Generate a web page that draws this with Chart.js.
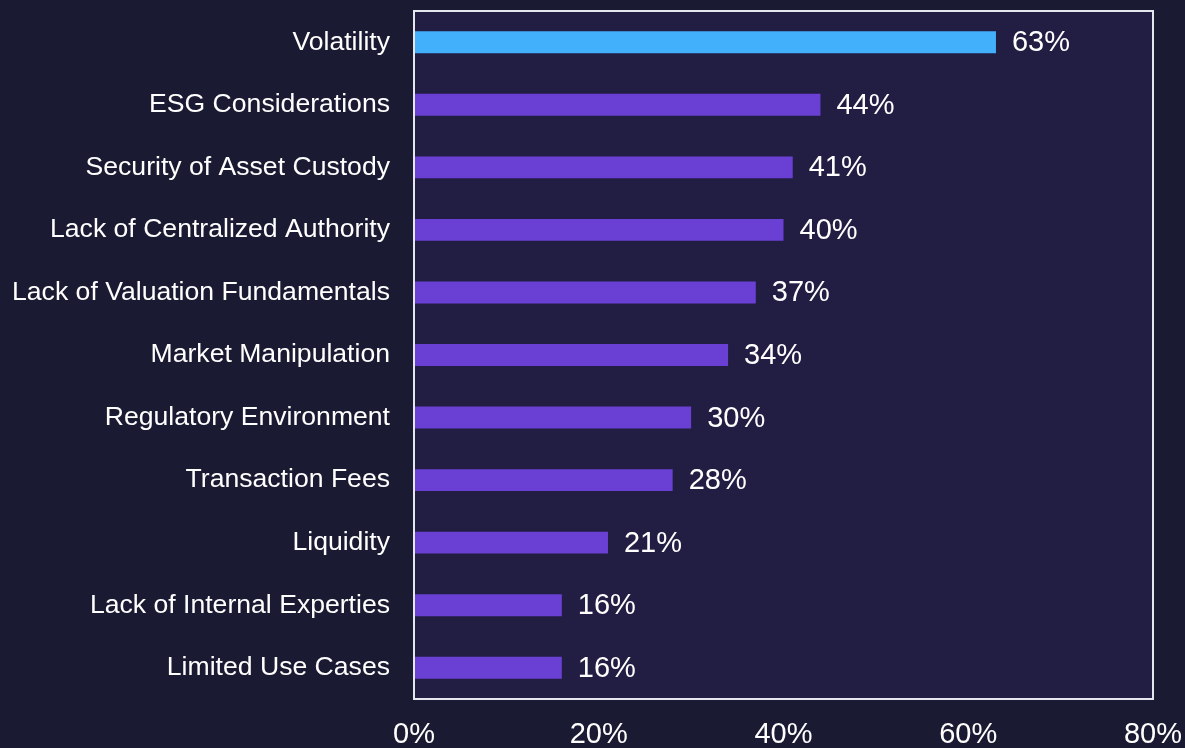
<!DOCTYPE html>
<html>
<head>
<meta charset="utf-8">
<script src="https://cdn.jsdelivr.net/npm/chart.js@4.4.0/dist/chart.umd.min.js"></script>
<style>
  html, body { margin: 0; padding: 0; background: #1b1a33; }
  #wrap { width: 1185px; height: 748px; }
</style>
</head>
<body>
<div id="wrap"><canvas id="chart"></canvas></div>
<script>
// concerns about digital assets, share of respondents
const categories = [
    'Volatility',
    'ESG Considerations',
    'Security of Asset Custody',
    'Lack of Centralized Authority',
    'Lack of Valuation Fundamentals',
    'Market Manipulation',
    'Regulatory Environment',
    'Transaction Fees',
    'Liquidity',
    'Lack of Internal Experties',
    'Limited Use Cases'
];
const values = [63, 44, 41, 40, 37, 34, 30, 28, 21, 16, 16];
const xTicks = [0, 20, 40, 60, 80];

const FONT = 'Arial, "Liberation Sans", Helvetica, sans-serif';
const barColors = values.map((v, i) => i === 0 ? '#42b0fa' : '#6a40d4');

// plot area fill + white frame
const frame = {
    id: 'frame',
    beforeDraw(chart) {
        const { ctx, chartArea: a } = chart;
        ctx.save();
        ctx.fillStyle = '#221d43';
        ctx.fillRect(a.left, a.top, a.right - a.left, a.bottom - a.top);
        ctx.restore();
    },
    afterDatasetsDraw(chart) {
        const { ctx, chartArea: a } = chart;
        ctx.save();
        ctx.strokeStyle = '#e6e6ee';
        ctx.lineWidth = 2;
        ctx.strokeRect(a.left, a.top, a.right - a.left, a.bottom - a.top);
        ctx.restore();
    }
};

// value labels right of each bar
const valueLabels = {
    id: 'valueLabels',
    afterDatasetsDraw(chart) {
        const { ctx } = chart;
        const meta = chart.getDatasetMeta(0);
        ctx.save();
        ctx.fillStyle = '#ffffff';
        ctx.font = '29px ' + FONT;
        ctx.textBaseline = 'middle';
        ctx.textAlign = 'left';
        meta.data.forEach((bar, i) => {
            ctx.fillText(values[i] + '%', bar.x + 16, bar.y + 1);
        });
        ctx.restore();
    }
};

new Chart(document.getElementById('chart'), {
    type: 'bar',
    data: {
        labels: categories,
        datasets: [{
            data: values,
            backgroundColor: barColors,
            borderWidth: 0,
            barPercentage: 0.35,
            categoryPercentage: 1
        }]
    },
    options: {
        indexAxis: 'y',
        responsive: true,
        maintainAspectRatio: false,
        animation: false,
        layout: {
            autoPadding: false,
            padding: { top: 11, right: 32, left: 0, bottom: 0 }
        },
        plugins: {
            legend: { display: false },
            tooltip: { enabled: false }
        },
        scales: {
            x: {
                min: 0,
                max: 80,
                afterBuildTicks(scale) {
                    scale.ticks = xTicks.map(v => ({ value: v }));
                },
                afterFit(scale) {
                    scale.height = 49;
                    scale.paddingLeft = 0;
                    scale.paddingRight = 0;
                },
                grid: { display: false, drawTicks: false },
                border: { display: false },
                ticks: {
                    color: '#ffffff',
                    padding: 19,
                    font: { family: FONT, size: 29 },
                    callback: v => v + '%'
                }
            },
            y: {
                afterFit(scale) {
                    scale.width = 414;
                    scale.paddingTop = 0;
                    scale.paddingBottom = 0;
                },
                grid: { display: false, drawTicks: false },
                border: { display: false },
                ticks: {
                    color: '#ffffff',
                    padding: 24,
                    autoSkip: false,
                    font: { family: FONT, size: 26.6 }
                }
            }
        }
    },
    plugins: [frame, valueLabels]
});
</script>
</body>
</html>
